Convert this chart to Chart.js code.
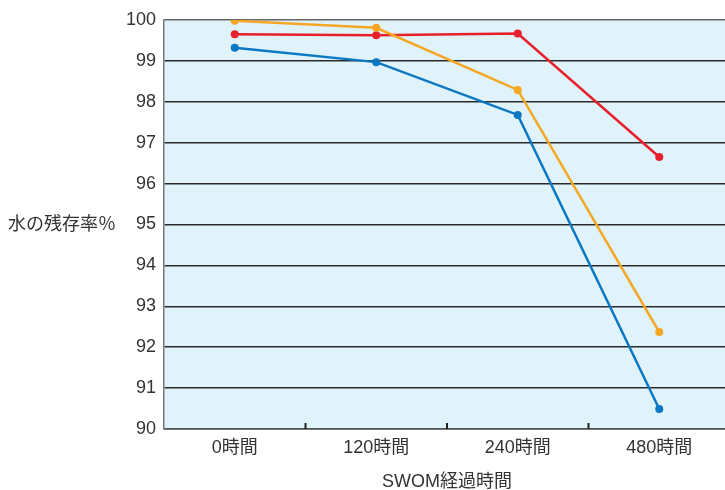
<html>
<head>
<script src="https://cdn.jsdelivr.net/npm/chart.js@4.4.1/dist/chart.umd.min.js"></script>
<style>
body { margin: 0; overflow: hidden; background: #ffffff; }
#wrap { width: 740px; height: 490px; position: relative; }
</style>
</head>
<body>
<div id="wrap"><canvas id="lineChart"></canvas></div>
<script>
// categories and series
var hours = ["0時間", "120時間", "240時間", "480時間"];
var redSeries = [99.65, 99.63, 99.67, 96.65];
var orangeSeries = [99.98, 99.81, 98.29, 92.37];
var blueSeries = [99.32, 98.97, 97.68, 90.49];
var yTicks = [90, 91, 92, 93, 94, 95, 96, 97, 98, 99, 100];

var yLabel = "水の残存率％";
var xLabel = "SWOM経過時間";
var fontName = "'Liberation Sans', 'Noto Sans CJK JP', sans-serif";

var extras = {
  id: 'extras',
  beforeDraw: function(chart) {
    var a = chart.chartArea, ctx = chart.ctx;
    ctx.save();
    ctx.fillStyle = "#e0f2fa";
    ctx.fillRect(a.left, a.top, a.right - a.left, a.bottom - a.top);
    ctx.restore();
  },
  afterDraw: function(chart) {
    var ctx = chart.ctx, a = chart.chartArea;
    var xs = chart.scales.x, ys = chart.scales.y;
    ctx.save();
    // small inner ticks between categories
    ctx.strokeStyle = "#222";
    ctx.lineWidth = 2;
    for (var i = 0; i < hours.length - 1; i++) {
      var px = (xs.getPixelForValue(i) + xs.getPixelForValue(i + 1)) / 2;
      ctx.beginPath();
      ctx.moveTo(px, a.bottom);
      ctx.lineTo(px, a.bottom - 6);
      ctx.stroke();
    }
    // horizontal y label
    ctx.fillStyle = "#333";
    ctx.font = "18px " + fontName;
    ctx.textBaseline = "middle";
    ctx.textAlign = "left";
    ctx.fillText(yLabel, 8, ys.getPixelForValue(95) + 1);
    ctx.restore();
  }
};

function mk(label, data, color) {
  return {
    label: label,
    data: data,
    borderColor: color,
    backgroundColor: color,
    borderWidth: 2.5,
    pointRadius: 4,
    pointBorderWidth: 0,
    tension: 0,
    fill: false
  };
}

var ctxL = document.getElementById("lineChart").getContext('2d');
var myChart = new Chart(ctxL, {
  type: 'line',
  data: {
    labels: hours,
    datasets: [
      mk("blue", blueSeries, "#0a78c2"),
      mk("orange", orangeSeries, "#f5a623"),
      mk("red", redSeries, "#e8202c")
    ]
  },
  options: {
    responsive: true,
    maintainAspectRatio: false,
    animation: false,
    layout: { padding: { top: 20, right: 10, left: 0, bottom: 0 } },
    plugins: { legend: { display: false }, tooltip: { enabled: false } },
    scales: {
      x: {
        offset: true,
        grid: { display: false, drawTicks: false },
        border: { color: "#555", width: 1.5 },
        ticks: { color: "#333", padding: 8, font: { family: fontName, size: 18 } },
        title: {
          display: true, text: xLabel, color: "#333",
          font: { family: fontName, size: 18, lineHeight: 0.9 },
          padding: { top: 0, bottom: 0 }
        },
        afterFit: function(s) { s.height = 61; }
      },
      y: {
        min: 90,
        max: 100,
        afterBuildTicks: function(s) { s.ticks = yTicks.map(function(v) { return { value: v }; }); },
        grid: {
          drawTicks: false,
          lineWidth: 1.5,
          color: function(c) { return (c.tick && (c.tick.value === 100)) ? "#666" : "#2a2a2a"; }
        },
        border: { color: "#777", width: 1.5 },
        ticks: { color: "#333", padding: 8, font: { family: fontName, size: 18 } },
        afterFit: function(s) { s.width = 164; }
      }
    }
  },
  plugins: [extras]
});
</script>
</body>
</html>
